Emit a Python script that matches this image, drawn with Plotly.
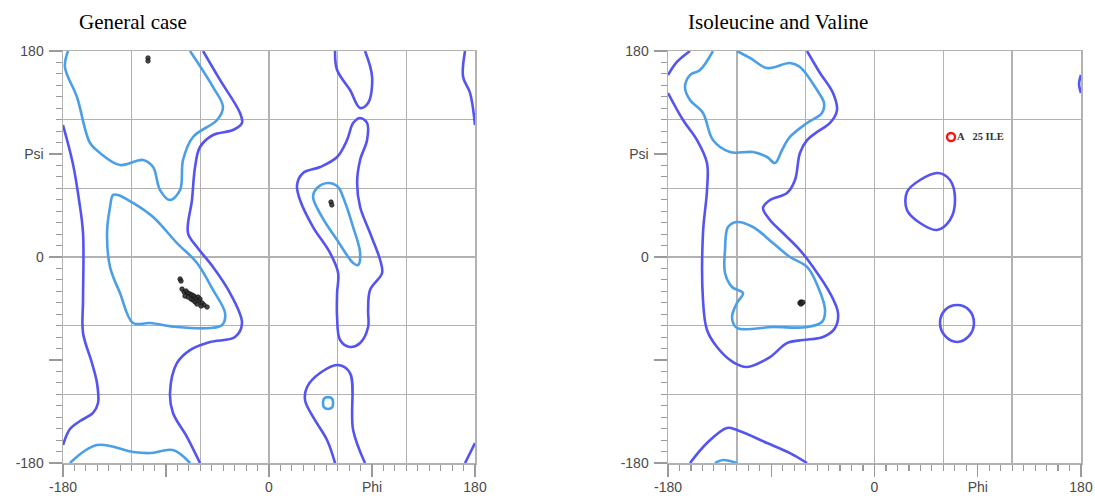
import plotly.graph_objects as go

# ---------------- DATA (phi, psi in degrees) ----------------
# General case panel: contour lines (outer = allowed, inner = favoured)
gen_outer_1_phi = [-57.6, -42.8, -25.3, -23.6, -31.4, -48.9, -60.3, -64.6, -67.3, -70.8, -62.9, -48.9, -34.0, -23.6, -29.7, -51.5, -69.0, -80.4, -86.5, -83.9, -71.6, -60.3]
gen_outer_1_psi = [180, 154.7, 125.8, 117.1, 111.0, 106.6, 96.1, 78.6, 49.8, 21.0, 8.7, -8.7, -31.5, -57.7, -69.9, -74.3, -81.3, -92.6, -118.8, -136.3, -157.3, -180]
gen_outer_2_phi = [-180, -171.3, -166.0, -162.5, -162.5, -162.5, -154.7, -150.3, -149.4, -153.8, -165.1, -173.9, -180]
gen_outer_2_psi = [115.3, 81.3, 49.8, 21.0, -37.6, -66.4, -92.6, -110.1, -127.6, -136.3, -143.3, -150.3, -164.3]
gen_outer_3_phi = [171.3, 169.6, 175.7, 180]
gen_outer_3_psi = [180, 157.3, 143.3, 115.3]
gen_outer_4_phi = [180, 171.3]
gen_outer_4_psi = [-162.5, -180]
gen_outer_5_phi = [57.7, 59.5, 70.8, 79.6, 86.6, 90.1, 83.9]
gen_outer_5_psi = [180, 163.4, 145.9, 130.2, 134.6, 157.3, 180]
gen_outer_6_phi = [57.7, 50.7, 38.5, 31.5, 33.3, 44.6, 60.4, 70.8, 73.5, 83.9]
gen_outer_6_psi = [-180, -159.9, -139.8, -125.0, -113.6, -101.4, -94.4, -101.4, -151.2, -180]
gen_outer_7_phi = [79.6, 85.7, 85.7, 79.6, 77.0, 79.6, 88.3, 97.1, 98.8, 88.3, 86.6, 86.6, 79.6, 70.8, 62.1, 59.5, 59.5, 60.4, 53.4, 38.5, 27.1, 24.5, 29.8, 44.6, 59.5, 68.2, 73.5, 79.6]
gen_outer_7_psi = [121.5, 117.1, 102.2, 84.8, 64.7, 43.7, 21.0, -2.6, -14.0, -28.8, -46.3, -61.2, -75.2, -78.6, -72.5, -52.4, -31.5, -14.0, 3.5, 26.2, 49.8, 62.9, 73.4, 78.6, 87.4, 102.2, 117.1, 121.5]

gen_inner_1_phi = [-175.6, -178.3, -167.8, -156.4, -147.7, -130.2, -110.1, -101.3, -95.2, -86.5, -77.7, -75.1, -66.4, -45.4, -40.2, -48.9, -69.0]
gen_inner_1_psi = [180, 166.0, 139.8, 99.6, 90.9, 80.4, 84.8, 78.6, 58.5, 49.8, 58.5, 84.8, 104.9, 119.7, 131.1, 148.5, 180]
gen_inner_2_phi = [-173.9, -150.3, -118.8, -104.0, -83.9, -69.0]
gen_inner_2_psi = [-180, -164.3, -170.4, -171.3, -168.7, -180]
gen_inner_3_phi = [-136.3, -138.9, -141.5, -138.9, -130.2, -118.8, -104.0, -80.4, -51.5, -41.0, -38.4, -48.9, -62.9, -80.4, -101.3, -118.8, -131.9, -136.3]
gen_inner_3_psi = [54.2, 43.7, 21.0, -8.7, -31.5, -57.7, -57.7, -61.2, -62.0, -59.4, -49.0, -28.8, -5.2, 12.2, 34.9, 47.2, 54.2, 54.2]
gen_inner_4_phi = [42.0, 51.6, 60.4, 64.7, 73.5, 79.6, 77.8, 73.5, 59.5, 46.4, 38.5, 42.0]
gen_inner_4_psi = [60.3, 64.7, 61.2, 52.4, 26.2, 3.5, -7.0, -5.2, 14.9, 34.9, 52.4, 60.3]
gen_inner_5_phi = [51.6, 55.3, 56.0, 55.3, 51.6, 47.9, 47.2, 47.9, 51.6]
gen_inner_5_psi = [-122.4, -124.0, -127.6, -131.2, -132.8, -131.2, -127.6, -124.0, -122.4]

# General case residues
gen_res_phi = [-105.7, -105.7, 54.2, 54.9, -77.7, -76.9, -76.0, -74.2, -72.5, -70.8, -69.0, -67.3, -65.5, -68.1, -66.4, -63.8, -62.0, -64.6, -61.1, -60.3, -58.5, -56.8, -54.1, -70.8, -73.4, -62.9, -59.4]
gen_res_psi = [173.9, 171.3, 48.0, 45.5, -19.2, -21.0, -28.0, -30.6, -29.7, -31.5, -32.3, -33.2, -34.1, -36.7, -37.6, -35.8, -35.0, -39.3, -38.5, -36.7, -40.2, -41.9, -43.7, -35.0, -34.1, -41.1, -42.8]

# Isoleucine and Valine panel
iv_outer_1_phi = [-58.8, -47.5, -36.2, -32.7, -38.8, -50.1, -58.8, -65.0, -69.3, -76.3, -91.1, -97.2, -91.1, -79.8, -65.0, -53.6, -38.8, -31.8, -34.4, -44.9, -62.3, -76.3, -91.1, -111.1, -123.3, -137.3, -146.0, -149.5, -149.5, -146.0, -146.0, -154.7, -166.9, -180]
iv_outer_1_psi = [180, 160.8, 143.3, 128.4, 117.1, 109.2, 102.2, 90.9, 67.3, 55.9, 49.8, 42.8, 32.3, 21.0, 6.1, -8.7, -31.5, -49.0, -62.0, -69.9, -72.5, -75.2, -87.4, -96.1, -91.8, -78.6, -63.8, -37.6, 21.0, 58.5, 82.1, 102.2, 119.7, 143.3]
iv_outer_2_phi = [-180, -172.2, -160.8]
iv_outer_2_psi = [159.0, 170.4, 180]
iv_outer_3_phi = [180, 178.3, 180]
iv_outer_3_psi = [159.0, 151.2, 143.3]
iv_outer_4_phi = [-160.8, -146.0, -128.6, -119.9, -93.7, -73.7, -58.8]
iv_outer_4_psi = [-180, -162.5, -149.4, -151.2, -162.5, -171.3, -180]
iv_outer_5_phi = [55.4, 65.8, 70.2, 65.8, 54.5, 39.7, 28.3, 28.3, 39.7, 55.4]
iv_outer_5_psi = [73.4, 67.3, 49.8, 32.3, 23.6, 29.7, 41.1, 56.8, 67.3, 73.4]
iv_outer_6_phi = [72.0, 82.4, 86.7, 82.4, 72.0, 61.5, 57.1, 61.5, 72.0]
iv_outer_6_psi = [-41.9, -46.3, -57.7, -69.0, -74.3, -69.0, -57.7, -46.3, -41.9]

iv_inner_1_phi = [-140.8, -152.1, -160.8, -165.2, -160.8, -149.5, -140.8, -126.0, -105.9, -93.7, -86.7, -80.6, -73.7, -58.8, -45.8, -44.0, -50.1, -65.0, -73.7, -93.7, -108.5, -119.9]
iv_inner_1_psi = [180, 163.4, 159.0, 148.5, 137.2, 125.8, 102.2, 91.7, 91.7, 87.4, 82.1, 93.5, 104.9, 117.1, 125.8, 134.6, 145.9, 166.0, 169.5, 165.1, 173.9, 180]
iv_inner_2_phi = [-139.0, -132.1, -119.9]
iv_inner_2_psi = [-180, -177.4, -180]
iv_inner_3_phi = [-119.9, -127.7, -130.3, -130.3, -124.2, -114.6, -119.9, -124.2, -119.9, -88.5, -58.8, -45.8, -43.1, -49.2, -58.8, -73.7, -88.5, -105.9, -119.9]
iv_inner_3_psi = [30.6, 26.2, 6.1, -14.0, -26.2, -31.5, -40.2, -52.4, -62.0, -61.2, -61.2, -56.8, -46.3, -26.2, -8.7, 0.0, 12.2, 26.2, 30.6]

# Isoleucine / Valine residues
iv_res_phi = [-64.1, -65.0, -63.2, -64.1, -62.5]
iv_res_psi = [-39.3, -40.2, -40.2, -41.1, -39.5]
iv_outlier_phi = [66.7]
iv_outlier_psi = [104.9]
iv_outlier_label = ["A\u00a0\u00a0 25\u00a0ILE"]

titles = ["General case", "Isoleucine and Valine"]
tick_vals = list(range(-180, 181, 10))
major_vals = [-180, -90, 0, 90, 180]
x_tick_text = {-180: "-180", 0: "0", 90: "Phi", 180: "180"}
y_tick_text = {-180: "-180", 0: "0", 90: "Psi", 180: "180"}
grid_vals = [-180, -120, -60, 0, 60, 120, 180]

OUTER = "#5454f0"
INNER = "#4b9fe6"

fig = go.Figure()

def add_line(phi, psi, color, xa, ya):
    fig.add_trace(go.Scatter(x=phi, y=psi, mode="lines", xaxis=xa, yaxis=ya,
                             line=dict(color=color, width=2.6, shape="spline", smoothing=1.0),
                             hoverinfo="skip", showlegend=False))

for phi, psi in [(gen_outer_1_phi, gen_outer_1_psi), (gen_outer_2_phi, gen_outer_2_psi),
                 (gen_outer_3_phi, gen_outer_3_psi), (gen_outer_4_phi, gen_outer_4_psi),
                 (gen_outer_5_phi, gen_outer_5_psi), (gen_outer_6_phi, gen_outer_6_psi),
                 (gen_outer_7_phi, gen_outer_7_psi)]:
    add_line(phi, psi, OUTER, "x", "y")
for phi, psi in [(gen_inner_1_phi, gen_inner_1_psi), (gen_inner_2_phi, gen_inner_2_psi),
                 (gen_inner_3_phi, gen_inner_3_psi), (gen_inner_4_phi, gen_inner_4_psi),
                 (gen_inner_5_phi, gen_inner_5_psi)]:
    add_line(phi, psi, INNER, "x", "y")
for phi, psi in [(iv_outer_1_phi, iv_outer_1_psi), (iv_outer_2_phi, iv_outer_2_psi),
                 (iv_outer_3_phi, iv_outer_3_psi), (iv_outer_4_phi, iv_outer_4_psi),
                 (iv_outer_5_phi, iv_outer_5_psi), (iv_outer_6_phi, iv_outer_6_psi)]:
    add_line(phi, psi, OUTER, "x2", "y2")
for phi, psi in [(iv_inner_1_phi, iv_inner_1_psi), (iv_inner_2_phi, iv_inner_2_psi),
                 (iv_inner_3_phi, iv_inner_3_psi)]:
    add_line(phi, psi, INNER, "x2", "y2")

fig.add_trace(go.Scatter(x=gen_res_phi, y=gen_res_psi, mode="markers", xaxis="x", yaxis="y",
                         marker=dict(size=4.5, color="rgba(45,45,45,0.85)",
                                     line=dict(color="rgba(20,20,20,0.9)", width=0.8)),
                         showlegend=False))
fig.add_trace(go.Scatter(x=iv_res_phi, y=iv_res_psi, mode="markers", xaxis="x2", yaxis="y2",
                         marker=dict(size=4.5, color="rgba(45,45,45,0.85)",
                                     line=dict(color="rgba(20,20,20,0.9)", width=0.8)),
                         showlegend=False))
fig.add_trace(go.Scatter(x=iv_outlier_phi, y=iv_outlier_psi, mode="markers+text", xaxis="x2", yaxis="y2",
                         text=iv_outlier_label, textposition="middle right",
                         textfont=dict(family="Liberation Serif", size=10.5, color="#333", weight="bold"),
                         marker=dict(size=8, symbol="circle-open", color="#ff1010", line=dict(width=2.4)),
                         showlegend=False))

# empty traces so the overlay axes (long major ticks) are drawn
for xa, ya in [("x3", "y3"), ("x4", "y4")]:
    fig.add_trace(go.Scatter(x=[], y=[], xaxis=xa, yaxis=ya, showlegend=False, hoverinfo="skip"))

def axis(domain, anchor, texts, standoff):
    return dict(domain=domain, anchor=anchor, range=[-180, 180], zeroline=False,
                automargin=False,
                tickmode="array", tickvals=tick_vals,
                ticktext=[texts.get(v, "") for v in tick_vals],
                ticks="outside", ticklen=6, tickwidth=1.2, tickcolor="#9a9a9a",
                ticklabelstandoff=standoff,
                tickfont=dict(family="Liberation Sans", size=14, color="#4a4a4a"),
                showgrid=False,
                minor=dict(tickmode="array", tickvals=grid_vals, showgrid=True,
                           gridcolor="#b2b2b2", gridwidth=1.5, ticks=""),
                showline=True, linecolor="#b2b2b2", linewidth=1.5, mirror=True,
                fixedrange=True)

def long_ticks(domain, anchor, overlay):
    return dict(domain=domain, anchor=anchor, overlaying=overlay, range=[-180, 180],
                automargin=False, zeroline=False, showgrid=False, showline=False,
                tickmode="array", tickvals=major_vals, showticklabels=False,
                ticks="outside", ticklen=13, tickwidth=1.2, tickcolor="#9a9a9a",
                fixedrange=True)

# body margin is removed by the post script, so figure pixels = window pixels
OFF = 0
W, H = 1095, 496
xd1 = [(63 - OFF) / W, (475 - OFF) / W]
xd2 = [(668 - OFF) / W, (1081 - OFF) / W]
yd = [1 - (463 - OFF) / H, 1 - (51 - OFF) / H]

fig.update_layout(
    width=W, height=H, margin=dict(l=0, r=0, t=0, b=0, autoexpand=False),
    paper_bgcolor="white", plot_bgcolor="white", showlegend=False, hovermode=False,
    xaxis=axis(xd1, "y", x_tick_text, 5), yaxis=axis(yd, "x", y_tick_text, 9),
    xaxis2=axis(xd2, "y2", x_tick_text, 5), yaxis2=axis(yd, "x2", y_tick_text, 9),
    xaxis3=long_ticks(xd1, "y3", "x"), yaxis3=long_ticks(yd, "x3", "y"),
    xaxis4=long_ticks(xd2, "y4", "x2"), yaxis4=long_ticks(yd, "x4", "y2"),
    annotations=[
        dict(text=titles[0], x=(77 - OFF) / W, y=1 - (22 - OFF) / H, xref="paper", yref="paper",
             xanchor="left", yanchor="middle", showarrow=False,
             font=dict(family="Liberation Serif", size=21, color="black")),
        dict(text=titles[1], x=(686 - OFF) / W, y=1 - (22 - OFF) / H, xref="paper", yref="paper",
             xanchor="left", yanchor="middle", showarrow=False,
             font=dict(family="Liberation Serif", size=21, color="black")),
    ],
)

fig.write_html("out.html", config={"displayModeBar": False, "staticPlot": True},
               post_script="document.body.style.margin='0px';document.body.style.overflow='hidden';")
